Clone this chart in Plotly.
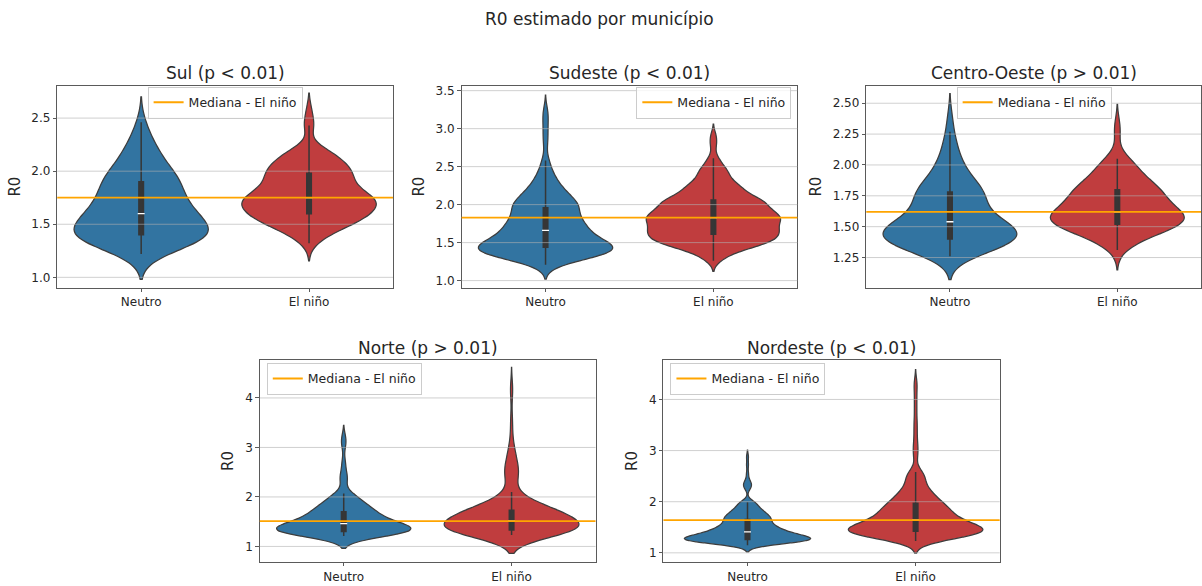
import numpy as np
import plotly.graph_objects as go

# ---------------- data ----------------
TITLE = "R0 estimado por município"
CATEGORIES = ["Neutro", "El niño"]
REGIONS = ["Sul", "Sudeste", "Centro-Oeste", "Norte", "Nordeste"]
P_LABELS = ["p < 0.01", "p < 0.01", "p > 0.01", "p > 0.01", "p < 0.01"]
LEGEND_LABEL = "Mediana - El niño"
Y_LABEL = "R0"

# estimated R0 values (municipalities) and how many municipalities share each value
sul_neutro_r0 = [1.22, 1.27, 1.32, 1.36, 1.40, 1.45, 1.50, 1.55, 1.60, 1.65, 1.70, 1.75, 1.80,
                 1.85, 1.90, 1.95, 2.00, 2.05, 2.10, 2.15, 2.20, 2.26, 2.32, 2.39, 2.46]
sul_neutro_n = [2, 3, 6, 8, 8, 7, 7, 6, 6, 5, 5, 4, 4,
                4, 5, 4, 3, 3, 2, 2, 2, 2, 1, 1, 1]
sul_elnino_r0 = [1.32, 1.38, 1.43, 1.48, 1.52, 1.56, 1.60, 1.64, 1.68, 1.72, 1.75, 1.79, 1.83,
                 1.87, 1.91, 1.95, 1.98, 2.02, 2.06, 2.10, 2.15, 2.20, 2.43, 2.57]
sul_elnino_n = [1, 2, 3, 4, 5, 6, 6, 6, 7, 7, 6, 5, 5,
                4, 4, 3, 5, 4, 4, 3, 4, 3, 2, 1]

sudeste_neutro_r0 = [1.21, 1.25, 1.29, 1.33, 1.37, 1.41, 1.44, 1.48, 1.52, 1.56, 1.61, 1.66, 1.71,
                     1.76, 1.81, 1.86, 1.91, 1.96, 2.02, 2.08, 2.14, 2.21, 2.29, 2.38, 2.48, 2.58,
                     2.78, 2.88, 2.98, 3.08, 3.17, 3.25]
sudeste_neutro_n = [2, 4, 6, 10, 14, 13, 11, 10, 10, 10, 8, 10, 8,
                    8, 8, 6, 6, 8, 10, 6, 6, 6, 4, 4, 2, 2,
                    1, 1, 1, 1, 1, 1]
sudeste_elnino_r0 = [1.26, 1.32, 1.37, 1.42, 1.47, 1.51, 1.56, 1.61, 1.66, 1.71, 1.76, 1.80, 1.83,
                     1.87, 1.91, 1.95, 1.99, 2.03, 2.06, 2.10, 2.15, 2.20, 2.26, 2.32, 2.39, 2.46,
                     2.53, 2.61, 2.76, 2.84, 2.92]
sudeste_elnino_n = [2, 2, 4, 6, 8, 10, 12, 12, 12, 12, 10, 8, 10,
                    10, 8, 8, 8, 6, 8, 6, 6, 6, 6, 4, 4, 4,
                    2, 2, 1, 1, 1]

centro_neutro_r0 = [1.26, 1.30, 1.33, 1.36, 1.40, 1.43, 1.47, 1.50, 1.54, 1.58, 1.62, 1.66, 1.70,
                    1.74, 1.78, 1.82, 1.87, 1.92, 1.98, 2.05, 2.13, 2.20, 2.27, 2.39]
centro_neutro_n = [2, 4, 5, 7, 8, 8, 8, 7, 6, 4, 4, 4, 4,
                   3, 6, 4, 3, 3, 3, 2, 2, 1, 1, 1]
centro_elnino_r0 = [1.31, 1.36, 1.40, 1.44, 1.48, 1.52, 1.55, 1.58, 1.62, 1.66, 1.70, 1.74, 1.77,
                    1.80, 1.84, 1.88, 1.93, 1.99, 2.05, 2.24, 2.33]
centro_elnino_n = [1, 2, 3, 5, 6, 9, 8, 8, 9, 6, 6, 5, 5,
                   5, 5, 4, 4, 4, 3, 1, 1]

norte_neutro_r0 = [1.21, 1.24, 1.27, 1.30, 1.34, 1.38, 1.42, 1.46, 1.50, 1.55, 1.60, 1.65, 1.70,
                   1.76, 1.83, 1.90, 1.98, 2.07, 2.35, 2.50, 2.70, 3.05, 3.20]
norte_neutro_n = [2, 4, 8, 12, 8, 7, 6, 6, 5, 5, 4, 4, 5,
                  5, 4, 3, 4, 2, 2, 1, 1, 1, 1]
norte_elnino_r0 = [1.23, 1.26, 1.29, 1.33, 1.37, 1.41, 1.46, 1.51, 1.56, 1.61, 1.66, 1.70, 1.73,
                   1.79, 1.86, 1.94, 2.02, 2.10, 2.38, 2.48, 2.58, 2.72, 2.88, 3.05, 3.35, 3.60,
                   4.08, 4.25]
norte_elnino_n = [6, 10, 14, 22, 12, 12, 12, 14, 10, 10, 10, 10, 10,
                  8, 6, 4, 4, 2, 4, 4, 2, 4, 2, 2, 1, 1,
                  1, 1]

nordeste_neutro_r0 = [1.15, 1.18, 1.21, 1.24, 1.26, 1.29, 1.32, 1.35, 1.38, 1.41, 1.45, 1.49, 1.53,
                      1.57, 1.61, 1.65, 1.70, 1.76, 1.83, 1.91, 1.99, 2.25, 2.30, 2.36, 2.42,
                      2.55, 2.72, 2.88]
nordeste_neutro_n = [4, 6, 10, 16, 16, 14, 12, 10, 10, 10, 9, 9, 8,
                     6, 6, 8, 9, 9, 8, 6, 5, 1, 2, 2, 1,
                     1, 1, 1]
nordeste_elnino_r0 = [1.23, 1.28, 1.32, 1.36, 1.39, 1.42, 1.46, 1.50, 1.54, 1.59, 1.64, 1.69, 1.74,
                      1.79, 1.85, 1.91, 1.97, 2.04, 2.11, 2.19, 2.28, 2.38, 2.48, 2.58, 2.85,
                      2.95, 3.05, 3.15, 3.30, 3.45, 3.60, 3.80, 4.00, 4.20, 4.35]
nordeste_elnino_n = [4, 6, 8, 10, 12, 14, 12, 12, 12, 8, 10, 8, 8,
                     8, 8, 8, 8, 6, 6, 6, 4, 4, 4, 4, 1,
                     1, 1, 1, 1, 1, 1, 1, 1, 1, 1]

SAMPLES = [
    ((sul_neutro_r0, sul_neutro_n), (sul_elnino_r0, sul_elnino_n)),
    ((sudeste_neutro_r0, sudeste_neutro_n), (sudeste_elnino_r0, sudeste_elnino_n)),
    ((centro_neutro_r0, centro_neutro_n), (centro_elnino_r0, centro_elnino_n)),
    ((norte_neutro_r0, norte_neutro_n), (norte_elnino_r0, norte_elnino_n)),
    ((nordeste_neutro_r0, nordeste_neutro_n), (nordeste_elnino_r0, nordeste_elnino_n)),
]

# y tick values / labels per panel
Y_TICKVALS = [
    [1.0, 1.5, 2.0, 2.5],
    [1.0, 1.5, 2.0, 2.5, 3.0, 3.5],
    [1.25, 1.50, 1.75, 2.00, 2.25, 2.50],
    [1, 2, 3, 4],
    [1, 2, 3, 4],
]
Y_TICKTEXT = [
    ["1.0", "1.5", "2.0", "2.5"],
    ["1.0", "1.5", "2.0", "2.5", "3.0", "3.5"],
    ["1.25", "1.50", "1.75", "2.00", "2.25", "2.50"],
    ["1", "2", "3", "4"],
    ["1", "2", "3", "4"],
]

# ---------------- styling / layout ----------------
W, H = 1202, 586
FONT = "DejaVu Sans"
TXT = "#262626"
SPINE = "#5a5a5a"
OUTLINE = "#3d3d3d"
BOXC = "#363636"
ORANGE = "#ffa500"
GRID = "rgba(176,176,176,0.6)"
COLORS = ["#3274a1", "#c03d3e"]

# KDE bandwidths (Scott-like, per violin) and relative widths
BANDWIDTHS = [(0.12, 0.083), (0.095, 0.07), (0.094, 0.08), (0.124, 0.185), (0.065, 0.117)]
WIDTH_SCALE = [(1, 1), (1, 1), (1, 1), (1, 1), (0.94, 1)]

# panel geometry in pixels: left, right, top, bottom
PANELS = [
    (57.3, 393.3, 84, 286.5),
    (462, 798, 84, 286.5),
    (867, 1202, 84, 286.5),
    (260, 596, 359.3, 561.7),
    (664, 1000.5, 359.3, 561.7),
]
Y_RANGES = [(0.904, 2.805), (0.909, 3.565), (1.007, 2.642), (0.69, 4.765), (0.825, 4.77)]
# legend placement: (x px, y px top, xanchor)
LEGEND_POS = [(225.3, 85, "center"), (792, 85, "right"), (1035, 85, "center"),
              (267, 362, "left"), (671, 362, "left")]

fig = go.Figure()
layout = {}
annotations = []
shapes = []

for i in range(5):
    n = i + 1
    xa = "x" if n == 1 else f"x{n}"
    ya = "y" if n == 1 else f"y{n}"
    lg = "legend" if n == 1 else f"legend{n}"
    l, r, t, b = PANELS[i]

    meds = []
    for j, cat in enumerate(CATEGORIES):
        r0_vals, counts = SAMPLES[i][j]
        vals = np.repeat(np.array(r0_vals), np.array(counts))
        ws = WIDTH_SCALE[i][j]
        fig.add_trace(go.Violin(
            x=[cat] * len(vals), y=vals, xaxis=xa, yaxis=ya, name=cat,
            width=0.8 * ws, bandwidth=BANDWIDTHS[i][j], spanmode="soft",
            points="outliers", marker=dict(opacity=0, size=1),
            fillcolor=COLORS[j], opacity=1,
            line=dict(color=OUTLINE, width=1.25),
            box=dict(visible=True, width=0.034 / ws, fillcolor=BOXC,
                     line=dict(color=BOXC, width=1.5)),
            meanline=dict(visible=False), quartilemethod="linear",
            showlegend=False, hoverinfo="skip",
        ))
        meds.append(float(np.median(vals)))

    # white median marks
    fig.add_trace(go.Scatter(
        x=CATEGORIES, y=meds, xaxis=xa, yaxis=ya, mode="markers",
        marker=dict(symbol="line-ew", size=5, line=dict(color="white", width=1.3)),
        showlegend=False, hoverinfo="skip",
    ))
    # legend entry for orange median line
    fig.add_trace(go.Scatter(
        x=[None], y=[None], xaxis=xa, yaxis=ya, mode="lines",
        line=dict(color=ORANGE, width=2), name=LEGEND_LABEL, legend=lg,
        showlegend=True, hoverinfo="skip",
    ))

    # gridlines drawn over the violins (as in matplotlib)
    for tv in Y_TICKVALS[i]:
        shapes.append(dict(type="line", xref=f"{xa} domain", x0=0, x1=1,
                           yref=ya, y0=tv, y1=tv, layer="above",
                           line=dict(color=GRID, width=1)))
    # orange median line of El niño
    shapes.append(dict(type="line", xref=f"{xa} domain", x0=0, x1=1,
                       yref=ya, y0=meds[1], y1=meds[1], layer="above",
                       line=dict(color=ORANGE, width=1.8)))

    xkey = "xaxis" if n == 1 else f"xaxis{n}"
    ykey = "yaxis" if n == 1 else f"yaxis{n}"
    layout[xkey] = dict(
        domain=[l / W, min(r / W, 1.0)], anchor=ya, type="category",
        categoryorder="array", categoryarray=CATEGORIES, range=[-0.5, 1.5],
        showline=True, mirror=True, linecolor=SPINE, linewidth=1,
        ticks="outside", ticklen=3.5, tickwidth=1, tickcolor=SPINE,
        showgrid=False, zeroline=False,
        tickfont=dict(family=FONT, size=12, color=TXT),
    )
    layout[ykey] = dict(
        domain=[1 - b / H, 1 - t / H], anchor=xa, range=list(Y_RANGES[i]),
        tickvals=Y_TICKVALS[i], ticktext=Y_TICKTEXT[i],
        showline=True, mirror=True, linecolor=SPINE, linewidth=1,
        ticks="outside", ticklen=3.5, tickwidth=1, tickcolor=SPINE,
        showgrid=False, zeroline=False,
        tickfont=dict(family=FONT, size=12, color=TXT),
        title=dict(text=Y_LABEL, font=dict(family=FONT, size=15, color=TXT), standoff=7),
    )
    lx, ly, lxa = LEGEND_POS[i]
    layout[lg] = dict(
        x=lx / W, y=1 - ly / H, xanchor=lxa, yanchor="top",
        xref="paper", yref="paper",
        bgcolor="rgba(255,255,255,0.8)", bordercolor="#cccccc", borderwidth=1,
        font=dict(family=FONT, size=12.5, color=TXT),
    )
    annotations.append(dict(
        text=f"{REGIONS[i]} ({P_LABELS[i]})", xref="paper", yref="paper",
        x=(l + r) / 2 / W, y=1 - (t - 12.5) / H, xanchor="center", yanchor="middle",
        showarrow=False, font=dict(family=FONT, size=17, color=TXT),
    ))

annotations.append(dict(
    text=TITLE, xref="paper", yref="paper", x=600 / W, y=1 - 17.5 / H,
    xanchor="center", yanchor="middle", showarrow=False,
    font=dict(family=FONT, size=17, color=TXT),
))

fig.update_layout(
    width=W, height=H, margin=dict(l=0, r=0, t=0, b=0),
    paper_bgcolor="white", plot_bgcolor="white",
    font=dict(family=FONT, color=TXT),
    violinmode="overlay", annotations=annotations, shapes=shapes,
    **layout,
)

fig.write_html("out.html", config={"displayModeBar": False},
               post_script="document.body.style.margin='0';")
